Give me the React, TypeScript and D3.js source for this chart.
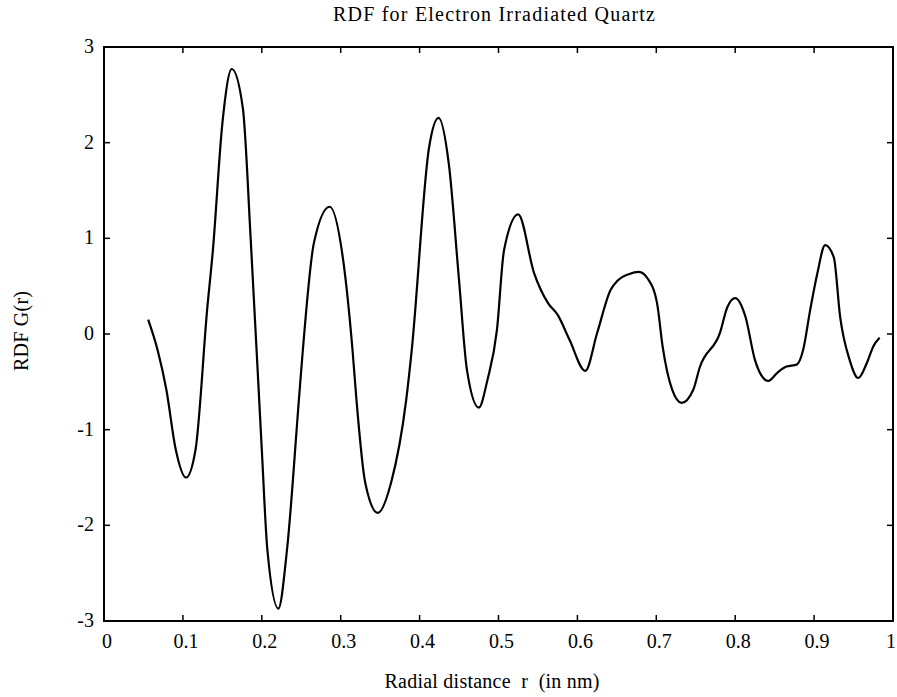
import React, { useRef, useEffect } from "react";
import * as d3 from "d3";

// radial distance r (nm) and G(r)
const rValues = [
  0.056, 0.068, 0.079, 0.091, 0.104, 0.116, 0.131, 0.138, 0.15, 0.162, 0.176,
  0.186, 0.2, 0.207, 0.221, 0.232, 0.247, 0.252, 0.266, 0.286, 0.303, 0.315,
  0.32, 0.331, 0.347, 0.364, 0.383, 0.39, 0.412, 0.424, 0.437, 0.45, 0.46,
  0.475, 0.486, 0.498, 0.507, 0.525, 0.545, 0.563, 0.575, 0.59, 0.61, 0.625,
  0.642, 0.651, 0.665, 0.678, 0.689, 0.701, 0.708, 0.72, 0.732, 0.747, 0.755,
  0.781, 0.79, 0.8, 0.813, 0.825, 0.833, 0.842, 0.854, 0.865, 0.878, 0.886,
  0.895, 0.904, 0.914, 0.925, 0.933, 0.945, 0.956, 0.967, 0.975, 0.983,
];
const gValues = [
  0.15, -0.17, -0.58, -1.21, -1.5, -1.21, 0.28, 0.875, 2.2, 2.77, 2.36, 0.98,
  -1.21, -2.25, -2.87, -2.25, -0.69, -0.17, 0.95, 1.33, 0.78, -0.17, -0.69,
  -1.55, -1.87, -1.55, -0.69, -0.17, 1.95, 2.26, 1.78, 0.56, -0.375, -0.77,
  -0.48, 0.04, 0.875, 1.25, 0.64, 0.32, 0.2, -0.06, -0.385, 0.01, 0.46, 0.56,
  0.625, 0.65, 0.58, 0.32, -0.13, -0.58, -0.72, -0.58, -0.35, 0.02, 0.28,
  0.375, 0.18, -0.27, -0.43, -0.49, -0.4, -0.34, -0.32, -0.17, 0.25, 0.63,
  0.93, 0.8, 0.18, -0.27, -0.46, -0.3, -0.13, -0.04,
];
const xTicks = [0, 0.1, 0.2, 0.3, 0.4, 0.5, 0.6, 0.7, 0.8, 0.9, 1];
const yTicks = [-3, -2, -1, 0, 1, 2, 3];

export default function App() {
  const ref = useRef<SVGSVGElement>(null);

  useEffect(() => {
    const svg = d3.select(ref.current);
    svg.selectAll("*").remove();
    const width = 897;
    const height = 697;
    const left = 104;
    const right = 893;
    const top = 47;
    const bottom = 621;
    const font = "'Liberation Serif', 'Times New Roman', serif";

    const x = d3.scaleLinear().domain([0, 1]).range([left, right]);
    const y = d3.scaleLinear().domain([-3, 3]).range([bottom, top]);

    svg.attr("width", width).attr("height", height);
    svg.append("rect").attr("width", width).attr("height", height).attr("fill", "#fff");

    // frame
    svg
      .append("rect")
      .attr("x", left)
      .attr("y", top)
      .attr("width", right - left)
      .attr("height", bottom - top)
      .attr("fill", "none")
      .attr("stroke", "#000")
      .attr("stroke-width", 2);

    const tickLen = 6;
    const ticks = svg.append("g").attr("stroke", "#000").attr("stroke-width", 1.5);
    xTicks.slice(1, -1).forEach((t) => {
      ticks.append("line").attr("x1", x(t)).attr("x2", x(t)).attr("y1", bottom).attr("y2", bottom - tickLen);
      ticks.append("line").attr("x1", x(t)).attr("x2", x(t)).attr("y1", top).attr("y2", top + tickLen);
    });
    yTicks.slice(1, -1).forEach((t) => {
      ticks.append("line").attr("x1", left).attr("x2", left + tickLen).attr("y1", y(t)).attr("y2", y(t));
      ticks.append("line").attr("x1", right).attr("x2", right - tickLen).attr("y1", y(t)).attr("y2", y(t));
    });

    // tick labels
    svg
      .append("g")
      .selectAll("text")
      .data(xTicks)
      .join("text")
      .attr("x", (d) => (d === 1 ? x(d) - 2 : x(d) + 3))
      .attr("y", bottom + 27)
      .attr("text-anchor", "middle")
      .attr("font-family", font)
      .attr("font-size", 20)
      .text((d) => String(d));

    svg
      .append("g")
      .selectAll("text")
      .data(yTicks)
      .join("text")
      .attr("x", left - 10)
      .attr("y", (d) => y(d) + 6)
      .attr("text-anchor", "end")
      .attr("font-family", font)
      .attr("font-size", 20)
      .text((d) => String(d));

    // curve
    const line = d3
      .line<number>()
      .x((d, i) => x(rValues[i]))
      .y((d) => y(d))
      .curve(d3.curveMonotoneX);

    svg
      .append("path")
      .datum(gValues)
      .attr("d", line)
      .attr("fill", "none")
      .attr("stroke", "#000")
      .attr("stroke-width", 2.2)
      .attr("stroke-linejoin", "round");

    // titles
    svg
      .append("text")
      .attr("x", 494)
      .attr("y", 21)
      .attr("text-anchor", "middle")
      .attr("font-family", font)
      .attr("font-size", 20)
      .attr("textLength", 322)
      .text("RDF for Electron Irradiated Quartz");

    svg
      .append("text")
      .attr("x", 492)
      .attr("y", 688)
      .attr("text-anchor", "middle")
      .attr("font-family", font)
      .attr("font-size", 20)
      .attr("textLength", 215)
      .attr("xml:space", "preserve")
      .text("Radial distance  r  (in nm)");

    svg
      .append("text")
      .attr("transform", "translate(28,331) rotate(-90)")
      .attr("text-anchor", "middle")
      .attr("font-family", font)
      .attr("font-size", 20)
      .attr("textLength", 80)
      .text("RDF  G(r)");
  }, []);

  return (
    <div style={{ position: "absolute", left: 0, top: 0 }}>
      <svg ref={ref} />
    </div>
  );
}
